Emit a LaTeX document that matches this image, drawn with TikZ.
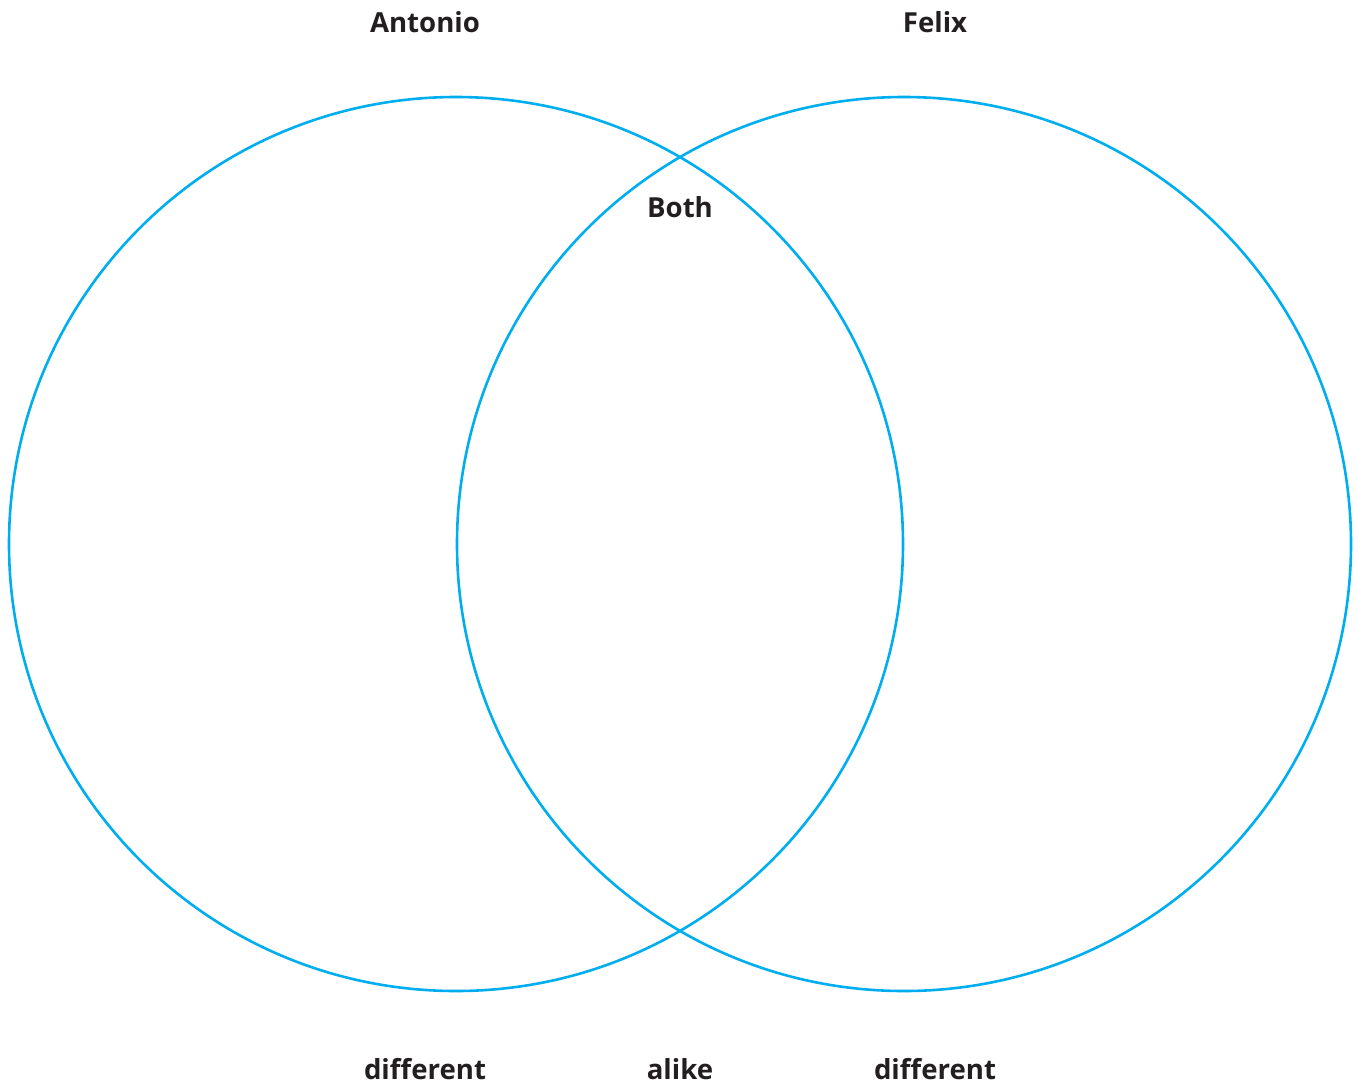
\documentclass[tikz,border=0pt]{standalone}
\usepackage{fontspec}
\setmainfont{Open Sans}
\definecolor{vcyan}{HTML}{00AEEF}
\definecolor{vtext}{HTML}{231F20}
\begin{document}
\begin{tikzpicture}[x=1pt,y=-1pt,
  ring/.style={draw=vcyan,line width=2.6pt},
  lbl/.style={text=vtext,font=\fontsize{27.6}{30}\selectfont\bfseries,inner sep=0pt,anchor=base}]
\useasboundingbox (0,0) rectangle (1358,1085);
\draw[ring] (456,544) circle[radius=447];
\draw[ring] (904,544) circle[radius=447];
\node[lbl] (antonio) at (425,32) {Antonio};
\node[lbl] (felix) at (935,32) {Felix};
\node[lbl] (both) at (680,217) {Both};
\node[lbl] (diff1) at (425,1079) {different};
\node[lbl] (alike) at (680,1079) {alike};
\node[lbl] (diff2) at (935,1079) {different};
\end{tikzpicture}
\end{document}
